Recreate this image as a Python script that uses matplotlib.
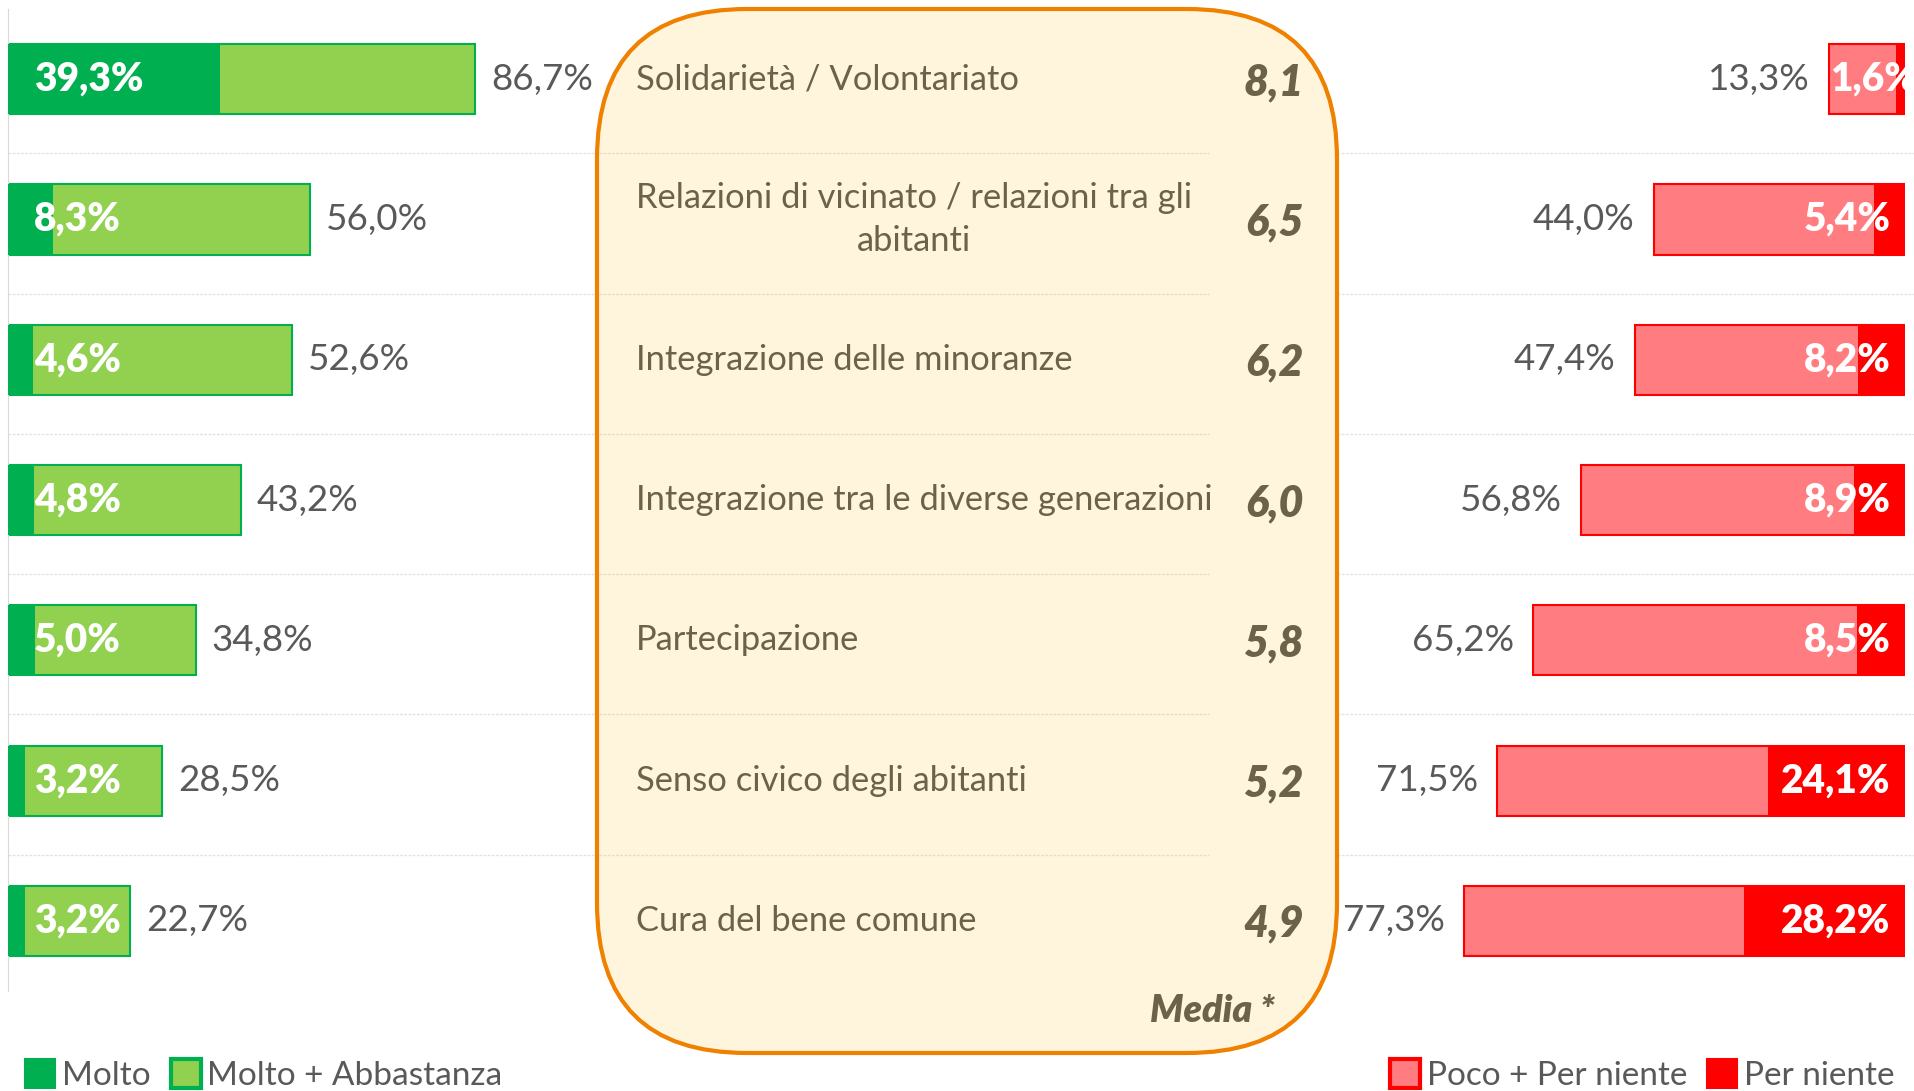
import matplotlib
matplotlib.use("Agg")
import matplotlib.pyplot as plt
from matplotlib.patches import FancyBboxPatch, Patch

plt.rcParams['font.family'] = ['Lato', 'DejaVu Sans']

categories = [
    "Solidarietà / Volontariato",
    "Relazioni di vicinato / relazioni tra gli\nabitanti",
    "Integrazione delle minoranze",
    "Integrazione tra le diverse generazioni",
    "Partecipazione",
    "Senso civico degli abitanti",
    "Cura del bene comune",
]
molto = [39.3, 8.3, 4.6, 4.8, 5.0, 3.2, 3.2]
molto_abbastanza = [86.7, 56.0, 52.6, 43.2, 34.8, 28.5, 22.7]
poco_per_niente = [13.3, 44.0, 47.4, 56.8, 65.2, 71.5, 77.3]
per_niente = [1.6, 5.4, 8.2, 8.9, 8.5, 24.1, 28.2]
media = [8.1, 6.5, 6.2, 6.0, 5.8, 5.2, 4.9]

DARK_GREEN = "#00B050"
LIGHT_GREEN = "#92D050"
LIGHT_RED = "#FF7C80"
RED = "#FF0000"
GREY = "#595959"
OLIVE = "#6B6249"


def pct(v):
    return f"{v:.1f}%".replace(".", ",")


W, H = 1915, 1091
fig = plt.figure(figsize=(W / 100, H / 100), dpi=100)

n = len(categories)
rows = list(range(n))
y_top, y_bot = 9, 991
ax_bottom = (H - y_bot) / H
ax_height = (y_bot - y_top) / H

# left side: green bars
ax_l = fig.add_axes([8 / W, ax_bottom, 589 / W, ax_height])
ax_l.barh(rows, molto_abbastanza, height=0.5, color=LIGHT_GREEN, edgecolor=DARK_GREEN, linewidth=1.5, zorder=2)
ax_l.barh(rows, molto, height=0.5, color=DARK_GREEN, linewidth=0, zorder=3)
ax_l.set_xlim(0, 589 / 5.39)
ax_l.set_ylim(n - 0.5, -0.5)
for s in ["top", "right", "bottom"]:
    ax_l.spines[s].set_visible(False)
ax_l.spines["left"].set_color("#D9D9D9")
ax_l.set_xticks([])
ax_l.set_yticks([])
ax_l.patch.set_alpha(0)
for i in rows:
    ax_l.text(4.8, i, pct(molto[i]), color="white", fontsize=28, fontweight="heavy",
              ha="left", va="center", zorder=4)
    ax_l.text(molto_abbastanza[i] + 3.0, i, pct(molto_abbastanza[i]), color=GREY,
              fontsize=26.5, ha="left", va="center")

# right side: red bars (reversed axis)
ax_r = fig.add_axes([1337 / W, ax_bottom, 568 / W, ax_height])
ax_r.barh(rows, poco_per_niente, height=0.5, color=LIGHT_RED, edgecolor=RED, linewidth=1.5, zorder=2)
ax_r.barh(rows, per_niente, height=0.5, color=RED, linewidth=0, zorder=3)
ax_r.set_xlim(568 / 5.7, 0)
ax_r.set_ylim(n - 0.5, -0.5)
ax_r.axis("off")
for i in rows:
    if poco_per_niente[i] < 20:
        ax_r.text(poco_per_niente[i] - 0.2, i, pct(per_niente[i]), color="white", fontsize=28,
                  fontweight="heavy", ha="left", va="center", zorder=4, clip_on=False)
    else:
        ax_r.text(2.5, i, pct(per_niente[i]), color="white", fontsize=28,
                  fontweight="heavy", ha="right", va="center", zorder=4)
    ax_r.text(poco_per_niente[i] + 3.4, i, pct(poco_per_niente[i]), color=GREY,
              fontsize=26.5, ha="right", va="center")

# overlay in pixel coordinates for the central box, separators and legends
ov = fig.add_axes([0, 0, 1, 1], zorder=-1)
ov.set_xlim(0, W)
ov.set_ylim(H, 0)
ov.axis("off")

row_h = (y_bot - y_top) / n
for k in range(1, n):
    yy = y_top + k * row_h + 4
    ov.plot([8, W], [yy, yy], color="#E3E3E3", lw=1, ls=(0, (2, 1)), zorder=1)

box = FancyBboxPatch((597 + 150, 9 + 150), 740 - 300, 1044 - 300,
                     boxstyle="round,pad=150", facecolor="#FFF5DC", edgecolor="#F08000",
                     linewidth=3, zorder=2)
ov.add_patch(box)
for k in range(1, n):
    yy = y_top + k * row_h + 4
    ov.plot([599, 1209], [yy, yy], color="#E6DDC8", lw=1, ls=(0, (2, 1)), zorder=3)

for i in rows:
    yc = y_top + (i + 0.5) * row_h
    ov.text(636, yc, categories[i], color=OLIVE, fontsize=24.8, ha="left", va="center",
            multialignment="center", linespacing=1.45, zorder=4)
    ov.text(1304, yc + 3, f"{media[i]:.1f}".replace(".", ","), color=OLIVE, fontsize=31,
            fontweight="heavy", fontstyle="italic", ha="right", va="center", zorder=4)
ov.text(1275, 1011, "Media *", color=OLIVE, fontsize=27, fontweight="heavy",
        fontstyle="italic", ha="right", va="center", zorder=4)

# legends
left_handles = [
    Patch(facecolor=DARK_GREEN, edgecolor=DARK_GREEN, linewidth=1.5, label="Molto"),
    Patch(facecolor=LIGHT_GREEN, edgecolor=DARK_GREEN, linewidth=3, label="Molto + Abbastanza"),
]
right_handles = [
    Patch(facecolor=LIGHT_RED, edgecolor=RED, linewidth=3, label="Poco + Per niente"),
    Patch(facecolor=RED, edgecolor=RED, linewidth=1.5, label="Per niente"),
]
leg_kw = dict(ncol=2, frameon=False, fontsize=24, handlelength=0.9, handleheight=0.95,
              handletextpad=0.2, columnspacing=0.6, labelcolor=GREY, borderaxespad=0)
fig.legend(handles=left_handles, loc="center left", bbox_to_anchor=(12 / W, 1 - 1075 / H), **leg_kw)
fig.legend(handles=right_handles, loc="center right", bbox_to_anchor=(1908 / W, 1 - 1075 / H), **leg_kw)

fig.savefig("out.png", dpi=100)
